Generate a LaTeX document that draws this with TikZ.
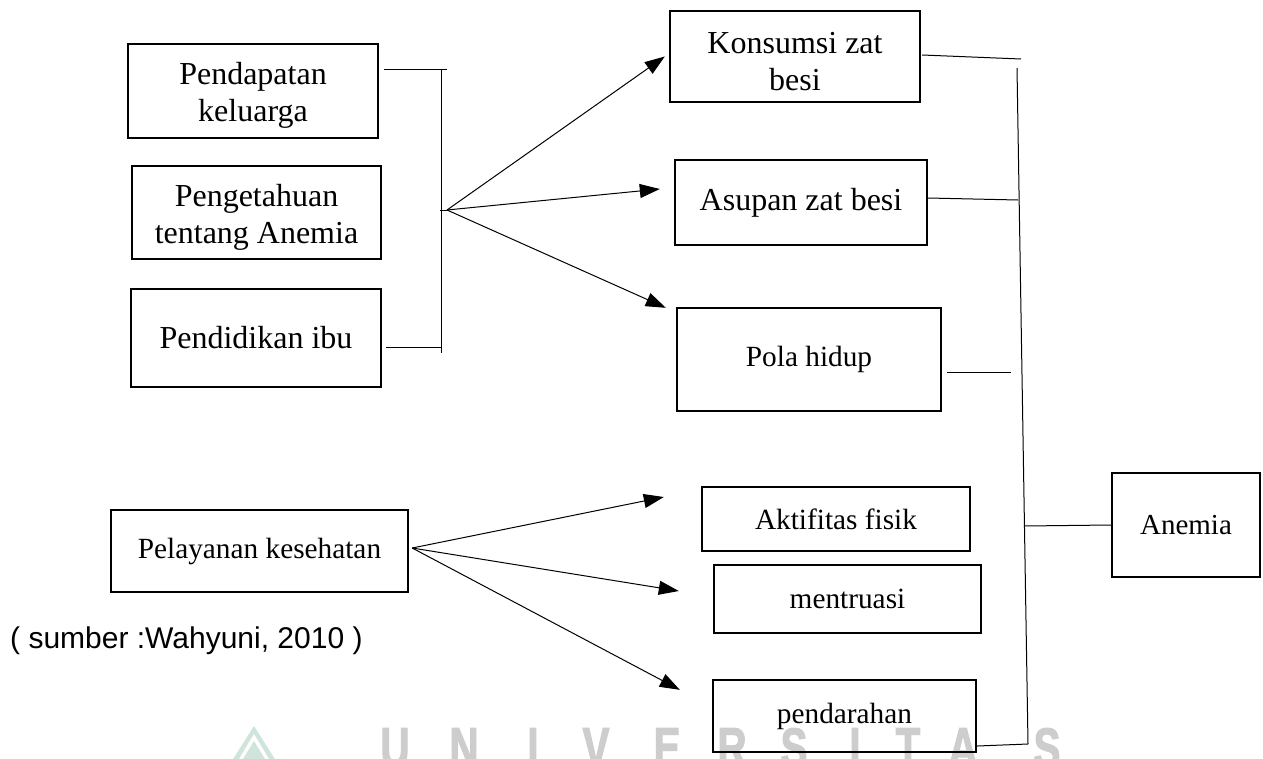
\documentclass[tikz,border=0pt]{standalone}
\usepackage{fontspec}
\setmainfont{Liberation Serif}
\newfontfamily\arialf{Liberation Sans}
\newfontfamily\wmfont[FakeBold=2.5]{Liberation Sans}
\usepackage{graphicx}
\usetikzlibrary{arrows.meta,calc}
\definecolor{wmgray}{HTML}{CDCDCD}
\definecolor{wmgreen}{HTML}{CFE4DA}
\newcommand{\tstrut}{\rule{0pt}{31pt}}
\begin{document}
\begin{tikzpicture}[x=1pt,y=-1pt,
  box/.style={draw, line width=2.4pt, inner sep=0pt, align=center},
  big/.style={font=\fontsize{32}{37}\selectfont},
  mid/.style={font=\fontsize{29.3}{34}\selectfont},
  conn/.style={line width=1pt},
  arr/.style={conn, -{Triangle[length=20pt,width=14pt]}},
  wm/.style={text=wmgray, inner sep=0pt, anchor=north, font=\wmfont\bfseries\fontsize{56}{56}\selectfont}
]
\fill[white] (0,0) rectangle (1263,758);
\useasboundingbox (0,0) rectangle (1263,758);

% watermark
\begin{scope}
\clip (0,0) rectangle (1263,758);
\fill[wmgreen] (254,726) -- (230,764) -- (278,764) -- cycle;
\fill[white] (254,734) -- (236,764) -- (272,764) -- cycle;
\fill[wmgreen] (254,741) -- (240,764) -- (268,764) -- cycle;
\foreach \ch/\xx [count=\i] in {U/395,N/464,I/533,V/596,E/667,R/732,S/794,I/855,T/908,A/963,S/1047}
  \node[wm] (wm\i) at (\xx,728) {\scalebox{0.72}[1]{\ch}};
\end{scope}

% left boxes
\node[box,big,minimum width=250pt,minimum height=94pt] (pend) at (253,91) {\tstrut Pendapatan\\keluarga};
\node[box,big,minimum width=249pt,minimum height=93pt] (peng) at (256.5,212.5) {\tstrut Pengetahuan\\tentang Anemia};
\node[box,big,minimum width=250pt,minimum height=98pt] (pdk) at (256,338) {Pendidikan ibu};
\node[box,mid,minimum width=297pt,minimum height=82pt] (pel) at (259.5,551) {Pelayanan kesehatan};

% middle boxes
\node[box,big,minimum width=250pt,minimum height=91pt] (kons) at (795,56.5) {\tstrut Konsumsi zat\\besi};
\node[box,big,minimum width=252pt,minimum height=85pt] (asup) at (801,202.5) {Asupan zat besi};
\node[box,mid,minimum width=264pt,minimum height=103pt] (pola) at (809,359.5) {Pola hidup};
\node[box,mid,minimum width=268pt,minimum height=64pt] (akt) at (836,519) {Aktifitas fisik};
\node[box,mid,minimum width=267pt,minimum height=68pt] (men) at (847.5,599) {mentruasi};
\node[box,mid,minimum width=263pt,minimum height=72pt] (pdr) at (844.5,716) {pendarahan};

% right box
\node[box,font=\fontsize{29}{34}\selectfont,minimum width=148pt,minimum height=104pt] (anem) at (1186,525) {Anemia};

% caption
\node[anchor=base west, inner sep=0pt, font=\arialf\fontsize{30}{35}\selectfont] (src) at (10,648) {( sumber :Wahyuni, 2010 )};

% left bracket
\coordinate (bt) at (441,69);
\coordinate (btr) at (447,69);
\coordinate (bb) at (441,353);
\coordinate (bbl) at (441,347);
\coordinate (j) at (447,210);
\draw[conn] ($(pend.east |- bt)+(5,0)$) -- (btr);
\draw[conn] (bt) -- (bb);
\draw[conn] ($(pdk.east |- bbl)+(4,0)$) -- (bbl);
\draw[conn] ($(bt |- j)+(-1,0)$) -- (j);

% arrows from bracket
\draw[arr] (j) -- ($(kons.west)+(-4,0)$);
\draw[arr] (j) -- ($(asup.west)+(-14,-13.5)$);
\draw[arr] (j) -- ($(pola.north west)+(-10,1)$);

% arrows from Pelayanan
\coordinate (ps) at ($(pel.east)+(3,-3)$);
\draw[arr] (ps) -- ($(akt.west)+(-37,-22)$);
\draw[arr] (ps) -- ($(men.west)+(-34,-8)$);
\draw[arr] (ps) -- ($(pdr.north west)+(-32,11)$);

% right collector
\coordinate (vt) at (1017,68);
\coordinate (vb) at (1028,744);
\coordinate (ke) at (1021,59);
\coordinate (ae) at (1018,200);
\coordinate (pe) at (1011,372);
\coordinate (ve) at (1024,526);
\draw[conn] (vt) -- (vb);
\draw[conn] ($(kons.east)+(1,-1.5)$) -- (ke);
\draw[conn] ($(asup.east)+(0,-4.5)$) -- (ae);
\draw[conn] ($(pola.east)+(5,12.5)$) -- (pe);
\draw[conn] ($(pdr.east)+(0,30)$) -- (vb);
\draw[conn] (ve) -- (anem.west);
\end{tikzpicture}
\end{document}
